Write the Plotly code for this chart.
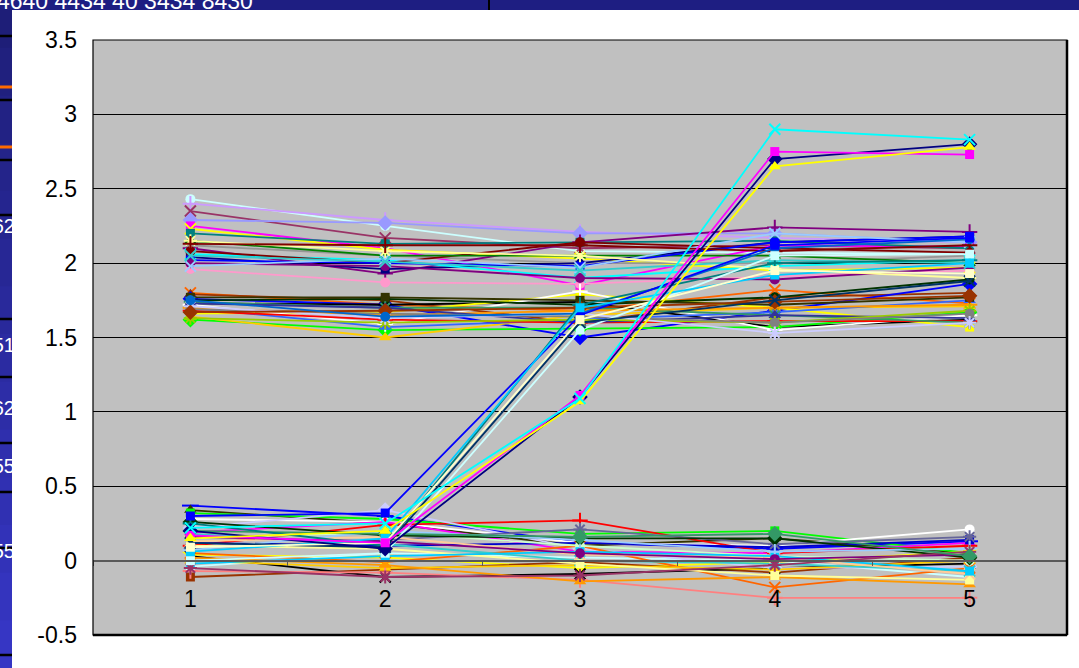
import plotly.graph_objects as go

# ---------------------------------------------------------------- data
categories = ["1", "2", "3", "4", "5"]

y_tick_values = [-0.5, 0, 0.5, 1, 1.5, 2, 2.5, 3, 3.5]
y_tick_labels = ["-0.5", "0", "0.5", "1", "1.5", "2", "2.5", "3", "3.5"]

# series that start near 2.0-2.4
upper_group = [
    [2.43, 2.25, 2.08, 2.07, 2.06],
    [2.40, 2.29, 2.21, 2.17, 2.14],
    [2.35, 2.17, 2.10, 2.12, 2.10],
    [2.29, 2.27, 2.20, 2.20, 2.14],
    [2.25, 2.10, 1.85, 2.12, 2.11],
    [2.23, 2.09, 2.03, 1.95, 1.97],
    [2.20, 2.13, 2.14, 2.15, 2.10],
    [2.12, 2.05, 2.00, 2.00, 2.05],
    [2.10, 1.93, 2.14, 2.24, 2.21],
    [2.04, 1.96, 2.00, 2.14, 2.18],
    [2.06, 2.02, 1.90, 1.98, 2.02],
    [1.96, 1.87, 1.86, 1.91, 1.95],
    [2.08, 2.00, 2.14, 2.10, 2.07],
    [2.15, 2.05, 2.05, 2.05, 2.00],
    [2.02, 2.00, 1.98, 2.14, 2.18],
    [2.00, 1.98, 1.90, 1.89, 1.97],
    [1.98, 2.03, 1.97, 2.20, 2.14],
    [2.15, 2.08, 2.05, 1.96, 1.90],
    [2.13, 2.12, 2.12, 2.08, 2.12],
    [2.05, 2.01, 1.95, 2.02, 2.00],
]

# series that start near 1.6-1.8
middle_group = [
    [1.80, 1.72, 1.68, 1.82, 1.73],
    [1.79, 1.75, 1.60, 1.77, 1.80],
    [1.76, 1.72, 1.50, 1.68, 1.86],
    [1.73, 1.72, 1.74, 1.57, 1.62],
    [1.66, 1.67, 1.79, 1.70, 1.57],
    [1.62, 1.55, 1.56, 1.57, 1.67],
    [1.72, 1.59, 1.81, 1.55, 1.65],
    [1.64, 1.50, 1.65, 1.70, 1.71],
    [1.75, 1.76, 1.72, 1.77, 1.89],
    [1.70, 1.57, 1.62, 1.67, 1.75],
    [1.68, 1.62, 1.60, 1.61, 1.61],
    [1.77, 1.77, 1.75, 1.72, 1.77],
    [1.74, 1.70, 1.70, 1.65, 1.60],
    [1.70, 1.65, 1.68, 1.70, 1.72],
    [1.73, 1.70, 1.60, 1.65, 1.63],
    [1.63, 1.60, 1.62, 1.60, 1.68],
    [1.69, 1.66, 1.64, 1.60, 1.66],
    [1.71, 1.63, 1.66, 1.53, 1.60],
    [1.67, 1.68, 1.70, 1.74, 1.78],
    [1.75, 1.64, 1.66, 2.10, 2.16],
]

# series that stay near zero
lower_group = [
    [0.37, 0.30, 0.12, 0.08, 0.13],
    [0.34, 0.25, 0.10, 0.15, 0.05],
    [0.32, 0.28, 0.18, 0.20, 0.05],
    [0.28, 0.26, 0.12, 0.10, 0.21],
    [0.19, 0.26, 0.06, 0.05, 0.12],
    [0.10, 0.24, 0.27, 0.05, 0.10],
    [0.12, 0.10, 0.12, 0.09, 0.14],
    [0.04, 0.02, -0.05, -0.01, 0.06],
    [-0.04, 0.05, 0.02, 0.00, -0.11],
    [-0.11, -0.06, -0.01, -0.08, 0.02],
    [0.03, -0.11, -0.09, -0.05, -0.02],
    [0.22, 0.34, 0.08, -0.05, -0.04],
    [0.05, -0.01, 0.10, -0.18, -0.05],
    [0.00, -0.05, -0.03, -0.06, 0.00],
    [-0.07, -0.08, -0.13, -0.25, -0.25],
    [0.15, 0.19, 0.10, 0.03, 0.00],
    [0.08, 0.14, 0.21, 0.11, 0.16],
    [0.18, 0.11, 0.00, -0.02, -0.07],
    [0.26, 0.17, 0.15, 0.15, 0.02],
    [0.02, -0.03, -0.14, -0.11, -0.16],
    [0.10, 0.08, -0.02, -0.10, -0.13],
    [0.13, 0.16, 0.04, 0.02, -0.09],
    [-0.02, 0.03, 0.06, 0.03, -0.07],
    [0.07, 0.20, 0.14, 0.06, 0.08],
    [0.16, 0.13, 0.05, 0.01, 0.04],
    [-0.05, -0.11, -0.10, -0.03, 0.06],
    [0.20, 0.18, 0.16, 0.18, 0.03],
]

# series that climb from zero into the 1.5-2.2 band
rising_mid_group = [
    [0.25, 0.10, 1.72, 2.00, 2.02],
    [0.00, 0.05, 1.55, 2.05, 2.06],
    [0.30, 0.32, 1.65, 2.12, 2.17],
    [0.12, 0.09, 1.60, 1.75, 1.88],
    [0.06, 0.15, 1.70, 1.92, 2.00],
    [0.09, 0.12, 1.62, 1.95, 1.93],
]

# series that climb to the top of the chart
rising_high_group = [
    [0.20, 0.08, 1.10, 2.70, 2.80],
    [0.17, 0.12, 1.11, 2.75, 2.73],
    [0.15, 0.20, 1.07, 2.65, 2.78],
    [0.22, 0.25, 1.09, 2.90, 2.83],
]

# ---------------------------------------------------------------- styles
upper_styles = [
    ("#CCFFFF", "circle"), ("#CC99FF", "cross"), ("#993366", "x"), ("#9999FF", "diamond"),
    ("#FF00FF", "square"), ("#FFFF00", "x"), ("#008080", "square"), ("#969696", "square"),
    ("#800080", "cross"), ("#000080", "square"), ("#00FFFF", "x"), ("#FF99CC", "circle"),
    ("#800000", "circle"), ("#008000", "triangle-up"), ("#0000FF", "square"), ("#800080", "circle"),
    ("#99CCFF", "x"), ("#FFFF99", "asterisk"), ("#800000", "cross"), ("#33CCCC", "x"),
]
middle_styles = [
    ("#FF6600", "x"), ("#993300", "triangle-up"), ("#0000FF", "diamond"), ("#000000", "circle"),
    ("#FFFF00", "square"), ("#00FF00", "diamond"), ("#FFFFFF", "cross"), ("#FFCC00", "triangle-up"),
    ("#003300", "circle"), ("#3366FF", "triangle-up"), ("#FF0000", "cross"), ("#333300", "square"),
    ("#339966", "asterisk"), ("#FF9900", "cross"), ("#333399", "triangle-up"), ("#99CC00", "asterisk"),
    ("#808080", "circle"), ("#CCCCFF", "asterisk"), ("#993300", "diamond"), ("#0066CC", "circle"),
]
lower_styles = [
    ("#0000FF", "line-ew"), ("#333300", "triangle-up"), ("#00FF00", "square"), ("#FFFFFF", "circle"),
    ("#FF00FF", "triangle-up"), ("#FF0000", "cross"), ("#0000CC", "square"), ("#FFFF00", "star"),
    ("#CCFFFF", "square"), ("#993300", "square"), ("#000000", "x"), ("#CCCCFF", "diamond"),
    ("#FF6600", "x"), ("#FFCC00", "triangle-up"), ("#FF8080", "cross"), ("#CCFFCC", "circle"),
    ("#666699", "asterisk"), ("#33CCCC", "x"), ("#003300", "diamond"), ("#FF9900", "triangle-up"),
    ("#FFFF99", "square"), ("#FFCC99", "x"), ("#00CCFF", "square"), ("#99CCFF", "cross"),
    ("#800080", "circle"), ("#993366", "asterisk"), ("#339966", "diamond"),
]
rising_mid_styles = [
    ("#008080", "cross"), ("#CCFFFF", "square"), ("#0000FF", "square"),
    ("#003366", "x"), ("#00CCFF", "square"), ("#FFFFCC", "square"),
]
rising_high_styles = [
    ("#000080", "diamond"), ("#FF00FF", "square"), ("#FFFF00", "triangle-up"), ("#00FFFF", "x"),
]

OPEN_SYMBOLS = {"x": "x-thin-open", "cross": "cross-thin-open",
                "asterisk": "asterisk-open", "line-ew": "line-ew-open"}
SIZES = {"circle": 10, "square": 9, "diamond": 12, "triangle-up": 11, "star": 13,
         "x": 11, "cross": 11, "asterisk": 11, "line-ew": 12}

W, H = 1079, 668
PLOT_L, PLOT_R, PLOT_T, PLOT_B = 93, 1067, 40, 635
FONT = "Liberation Sans, Arial, sans-serif"

x_dom = [PLOT_L / W, PLOT_R / W]
y_dom = [(H - PLOT_B) / H, (H - PLOT_T) / H]
y_range = [-0.5, 3.5]
zero_pos = y_dom[0] + (0 - y_range[0]) / (y_range[1] - y_range[0]) * (y_dom[1] - y_dom[0])

fig = go.Figure()

groups = [
    (upper_group, upper_styles),
    (middle_group, middle_styles),
    (lower_group, lower_styles),
    (rising_mid_group, rising_mid_styles),
    (rising_high_group, rising_high_styles),
]
for rows, styles in groups:
    for vals, (color, sym) in zip(rows, styles):
        is_open = sym in OPEN_SYMBOLS
        fig.add_trace(go.Scatter(
            x=categories, y=vals, mode="lines+markers",
            line=dict(color=color, width=1.8),
            marker=dict(symbol=OPEN_SYMBOLS.get(sym, sym), size=SIZES[sym], color=color,
                        line=dict(color=color, width=2 if is_open else 0)),
            showlegend=False, hoverinfo="skip", cliponaxis=False,
            xaxis="x", yaxis="y",
        ))

# ---------------------------------------------------------------- slide backdrop strips
LEFT_W, TOP_H = 12, 10
left_lines_black = [36, 100, 160, 215, 319, 377, 443, 492, 548, 655]
left_lines_orange = [87, 147]
left_labels = [("62", 228), ("51", 347), ("62", 410), ("55", 468), ("55", 553)]

shapes = []
n_bands = 14
top_rgb, bot_rgb = (30, 30, 120), (54, 54, 196)
for i in range(n_bands):
    t = i / (n_bands - 1)
    rgb = tuple(round(a + (b - a) * t) for a, b in zip(top_rgb, bot_rgb))
    shapes.append(dict(type="rect", xref="x2", yref="y2", x0=0, x1=LEFT_W,
                       y0=H * i / n_bands, y1=H * (i + 1) / n_bands + 1,
                       fillcolor="rgb(%d,%d,%d)" % rgb, line=dict(width=0), layer="below"))
for yy in left_lines_black:
    shapes.append(dict(type="line", xref="x2", yref="y2", x0=0, x1=LEFT_W, y0=yy, y1=yy,
                       line=dict(color="black", width=2.5), layer="below"))
for yy in left_lines_orange:
    shapes.append(dict(type="line", xref="x2", yref="y2", x0=0, x1=LEFT_W, y0=yy, y1=yy,
                       line=dict(color="#FF6A00", width=3), layer="below"))
shapes.append(dict(type="rect", xref="x3", yref="y3", x0=0, x1=W, y0=0, y1=TOP_H,
                   fillcolor="#1E1E82", line=dict(width=0), layer="below"))
shapes.append(dict(type="line", xref="x3", yref="y3", x0=489, x1=489, y0=0, y1=TOP_H,
                   line=dict(color="black", width=2), layer="below"))

fig.add_trace(go.Scatter(
    x=[LEFT_W + 3] * len(left_labels), y=[p for _, p in left_labels],
    text=[t for t, _ in left_labels], mode="text", textposition="middle left",
    textfont=dict(family=FONT, size=20, color="white"),
    xaxis="x2", yaxis="y2", showlegend=False, hoverinfo="skip", cliponaxis=True))
fig.add_trace(go.Scatter(
    x=[-3], y=[3], text=["4640 4434 40 3434 8430"], mode="text", textposition="middle right",
    textfont=dict(family=FONT, size=23, color="white"),
    xaxis="x3", yaxis="y3", showlegend=False, hoverinfo="skip", cliponaxis=True))

# ---------------------------------------------------------------- plot frame
frame_line = dict(color="black", width=1.2)
shapes.append(dict(type="rect", xref="paper", yref="paper", x0=x_dom[0], x1=x_dom[1],
                   y0=y_dom[0], y1=y_dom[1], line=frame_line, layer="above"))
shapes.append(dict(type="line", xref="paper", yref="paper", x0=x_dom[1], x1=x_dom[1],
                   y0=y_dom[0], y1=y_dom[1], line=dict(color="black", width=2.5), layer="above"))
shapes.append(dict(type="line", xref="paper", yref="paper", x0=x_dom[0], x1=x_dom[1],
                   y0=y_dom[0], y1=y_dom[0], line=dict(color="black", width=2.5), layer="above"))

tick_font = dict(family=FONT, size=23, color="black")

fig.update_layout(
    width=W, height=H, autosize=False,
    margin=dict(l=0, r=0, t=0, b=0, pad=0, autoexpand=False),
    paper_bgcolor="white",
    plot_bgcolor="#C0C0C0",
    shapes=shapes,
    xaxis=dict(type="category", domain=x_dom, range=[-0.5, 4.5], anchor="free", position=zero_pos,
               showline=True, linecolor="#5A5A5A", linewidth=1.5,
               ticks="outside", ticklen=5, tickwidth=1, tickcolor="#5A5A5A", tickson="boundaries",
               showgrid=False, zeroline=False, tickfont=tick_font, ticklabelstandoff=18,
               automargin=False, fixedrange=True),
    yaxis=dict(domain=y_dom, range=y_range, anchor="free", position=x_dom[0],
               tickvals=y_tick_values, ticktext=y_tick_labels,
               showgrid=True, gridcolor="black", gridwidth=1, zeroline=False,
               showline=False, ticks="", tickfont=tick_font, ticklabelstandoff=16,
               automargin=False, fixedrange=True),
    xaxis2=dict(domain=[0, LEFT_W / W], range=[0, LEFT_W], visible=False, anchor="y2",
                automargin=False, fixedrange=True),
    yaxis2=dict(domain=[0, 1], range=[H, 0], visible=False, anchor="x2",
                automargin=False, fixedrange=True),
    xaxis3=dict(domain=[0, 1], range=[0, W], visible=False, anchor="y3",
                automargin=False, fixedrange=True),
    yaxis3=dict(domain=[(H - TOP_H) / H, 1], range=[TOP_H, 0], visible=False, anchor="x3",
                automargin=False, fixedrange=True),
)

fig.write_html("out.html")
